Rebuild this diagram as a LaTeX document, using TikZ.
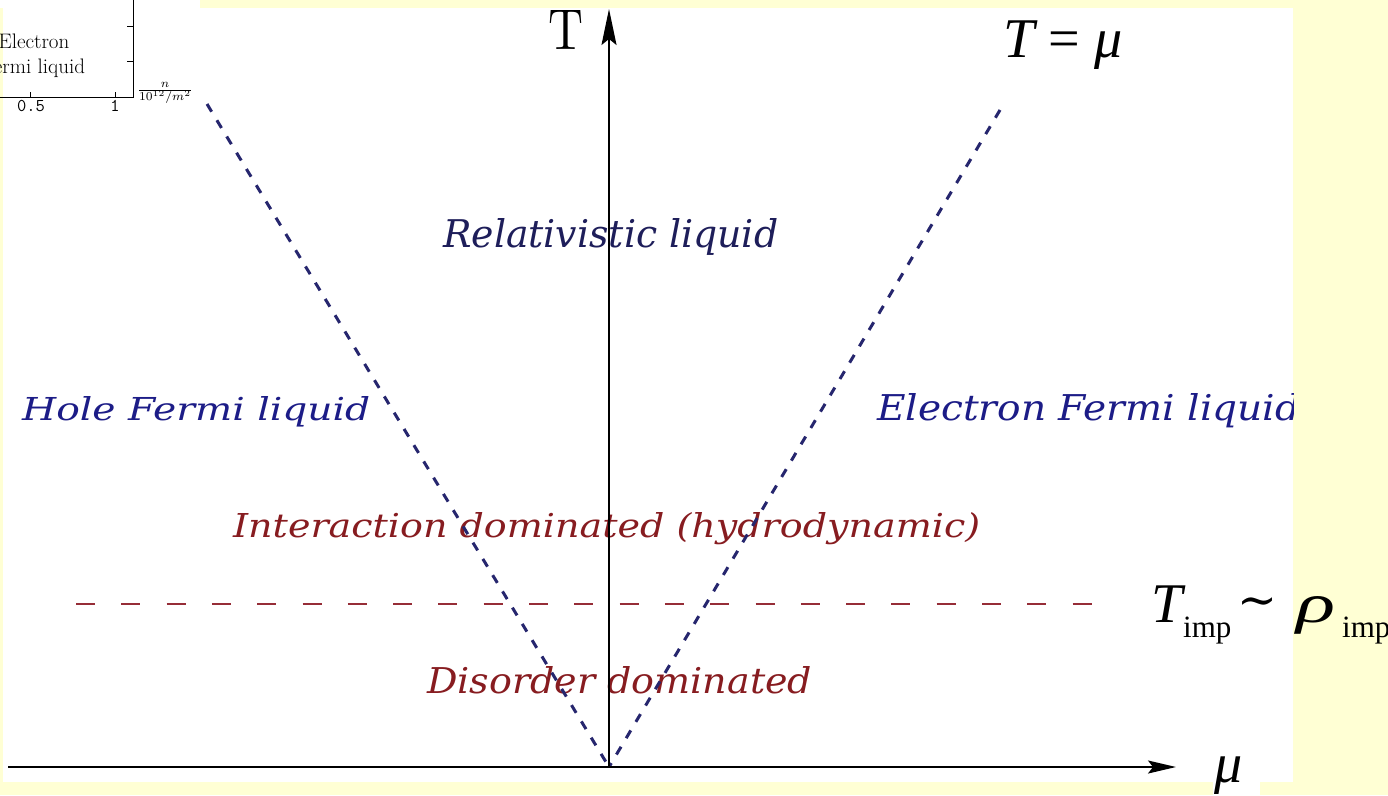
\documentclass[tikz,border=0pt]{standalone}
\usepackage{fontspec}
\usetikzlibrary{arrows.meta}
\newfontfamily\dvs{DejaVu Serif}
\newfontfamily\lib[ItalicFont={Liberation Serif Italic}]{Liberation Serif}
\definecolor{bgyellow}{RGB}{255,255,212}
\definecolor{navyA}{RGB}{30,30,90}
\definecolor{navyB}{RGB}{28,28,135}
\definecolor{redA}{RGB}{135,28,32}
\definecolor{dashblue}{RGB}{38,38,110}
\definecolor{dashred}{RGB}{150,45,55}
\tikzset{
  txt/.style={inner sep=0pt, anchor=base west},
  axisline/.style={line width=1.8pt, black},
  vline/.style={line width=3pt, dashblue, dash pattern=on 9pt off 10pt},
  hdash/.style={line width=2pt, dashred, dash pattern=on 19pt off 26.3pt},
  inset/.style={line width=1pt, black},
}
\begin{document}
\begin{tikzpicture}[x=1pt,y=-1pt]
\useasboundingbox (0,0) rectangle (1388,795);
\clip (0,0) rectangle (1388,795);
% background
\fill[bgyellow] (0,0) rectangle (1388,795);
\fill[white] (3,8) rectangle (1293,782);
\fill[white] (0,0) rectangle (200,8);
\fill[white] (1213,770) rectangle (1260,795);

% inset plot fragment
\coordinate (b0) at (0,97);
\coordinate (bc) at (133,97);
\coordinate (bt) at (133,0);
\draw[inset] (b0) -- (bc) -- (bt);
\coordinate (ty1a) at (127,26); \coordinate (ty1b) at (133,26);
\coordinate (ty2a) at (127,61); \coordinate (ty2b) at (133,61);
\coordinate (tx1a) at (30,92); \coordinate (tx1b) at (30,97);
\coordinate (tx2a) at (115,92); \coordinate (tx2b) at (115,97);
\draw[inset] (ty1a) -- (ty1b) (ty2a) -- (ty2b) (tx1a) -- (tx1b) (tx2a) -- (tx2b);
\node[inner sep=0pt, anchor=base] (ilab1) at (34,48) {\fontsize{21}{21}\selectfont Electron};
\node[inner sep=0pt, anchor=base] (ilab2) at (34,73) {\fontsize{21}{21}\selectfont Fermi liquid};
\node[inner sep=0pt, anchor=base] (tick05) at (31,111) {\fontsize{18}{18}\selectfont\ttfamily 0.5};
\node[inner sep=0pt, anchor=base] (tick1) at (115,111) {\fontsize{18}{18}\selectfont\ttfamily 1};
\node[inner sep=0pt] (nfrac) at (165,93) {\resizebox{56pt}{!}{$\frac{n}{10^{12}/m^2}$}};

% region labels
\node[txt, navyA] (rel) at (443,247) {\resizebox{335pt}{29pt}{\dvs\itshape Relativistic liquid}};
\node[txt, navyB] (hole) at (22,420) {\resizebox{348pt}{24pt}{\dvs\itshape Hole Fermi liquid}};
\begin{scope}
\clip (0,0) rectangle (1293,795);
\node[txt, navyB] (elec) at (877,420) {\resizebox{423pt}{27pt}{\dvs\itshape Electron Fermi liquid}};
\end{scope}
\node[txt, redA] (inter) at (233,537) {\resizebox{747pt}{25pt}{\dvs\itshape Interaction dominated (hydrodynamic)}};
\node[txt, redA] (dis) at (427,693) {\resizebox{385pt}{27pt}{\dvs\itshape Disorder dominated}};

% axis labels
\node[txt] (Tlab) at (548,49) {\resizebox{35pt}{39pt}{T}};
\node[txt] (Tmu) at (1003,57) {\resizebox{119pt}{!}{\lib\fontsize{52}{52}\selectfont\itshape T {\upshape =} μ}};
\node[txt] (Timp) at (1151,622) {\lib\fontsize{56}{56}\selectfont\itshape T};
\node[txt] (Timpsub) at (1183,637) {\lib\fontsize{31}{31}\selectfont imp};
\node[inner sep=0pt] (sim) at (1257,607) {\resizebox{40pt}{!}{\dvs ∼}};
\node[txt] (rho) at (1296,622) {\resizebox{39pt}{26pt}{\lib\fontsize{56}{56}\selectfont\itshape ρ}};
\node[txt] (rhosub) at (1342,637) {\lib\fontsize{31}{31}\selectfont imp};
\node[txt] (mu) at (1214,782) {\lib\fontsize{56}{56}\selectfont\itshape μ};

% dashed lines
\coordinate (O) at (609,767);
\coordinate (Ltop) at (207,104);
\coordinate (Rtop) at (1000,110);
\draw[vline] (Ltop) -- (O);
\draw[vline] (Rtop) -- (O);
\coordinate (dL) at (76,604);
\coordinate (dR) at (1092,604);
\draw[hdash] (dL) -- (dR);

% axes
\coordinate (xstart) at (8,767);
\coordinate (xend) at (1176,767);
\coordinate (yend) at (609,9);
\draw[axisline, -{Stealth[length=28pt,width=13pt,inset=5pt]}] (xstart) -- (xend);
\draw[axisline, -{Stealth[length=36pt,width=15pt,inset=6pt]}] (O) -- (yend);
\end{tikzpicture}
\end{document}
